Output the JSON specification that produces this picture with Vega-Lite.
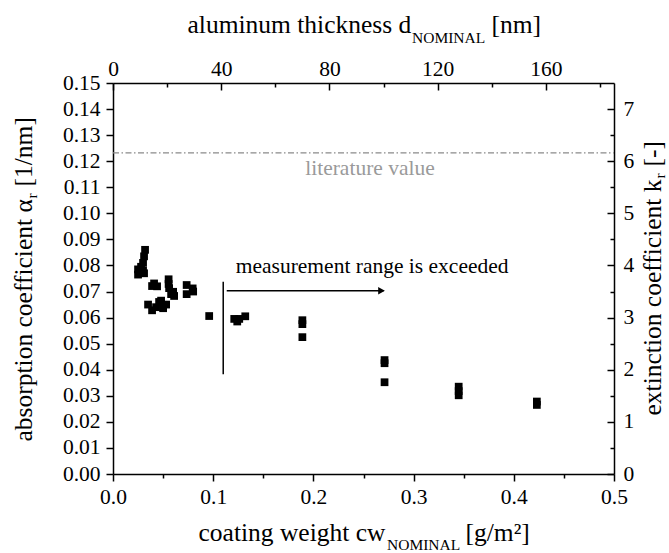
{
  "$schema": "https://vega.github.io/schema/vega-lite/v6.json",
  "width": 501,
  "height": 391,
  "autosize": {"type": "none"},
  "padding": {"left": 113, "top": 83, "right": 55, "bottom": 79},
  "background": "white",
  "config": {
    "view": {"stroke": null},
    "font": "Liberation Serif",
    "axis": {
      "labelFont": "Liberation Serif",
      "titleFont": "Liberation Serif",
      "labelColor": "black",
      "titleColor": "black",
      "domainColor": "black",
      "tickColor": "black",
      "domainWidth": 1.5,
      "tickWidth": 1.5,
      "labelFontSize": 21.5,
      "titleFontSize": 25.5,
      "titleFontWeight": "normal",
      "titleBaseline": "alphabetic",
      "labelOverlap": false,
      "labelFlush": false,
      "labelBound": false,
      "grid": false
    }
  },
  "datasets": {
    "points": [
      {"cw": 0.025, "alpha": 0.0765}, {"cw": 0.025, "alpha": 0.0785}, {"cw": 0.028, "alpha": 0.0775},
      {"cw": 0.028, "alpha": 0.0795}, {"cw": 0.030, "alpha": 0.078}, {"cw": 0.030, "alpha": 0.081},
      {"cw": 0.031, "alpha": 0.0835}, {"cw": 0.032, "alpha": 0.086}, {"cw": 0.031, "alpha": 0.077},
      {"cw": 0.035, "alpha": 0.065}, {"cw": 0.039, "alpha": 0.0628}, {"cw": 0.043, "alpha": 0.064},
      {"cw": 0.046, "alpha": 0.066}, {"cw": 0.048, "alpha": 0.0665}, {"cw": 0.050, "alpha": 0.0636},
      {"cw": 0.053, "alpha": 0.065},
      {"cw": 0.039, "alpha": 0.0721}, {"cw": 0.041, "alpha": 0.0731}, {"cw": 0.044, "alpha": 0.072},
      {"cw": 0.0555, "alpha": 0.0747}, {"cw": 0.0555, "alpha": 0.0729}, {"cw": 0.056, "alpha": 0.0713},
      {"cw": 0.060, "alpha": 0.0699}, {"cw": 0.061, "alpha": 0.0683}, {"cw": 0.058, "alpha": 0.069},
      {"cw": 0.0735, "alpha": 0.0725}, {"cw": 0.0735, "alpha": 0.069}, {"cw": 0.0795, "alpha": 0.0712},
      {"cw": 0.080, "alpha": 0.070},
      {"cw": 0.096, "alpha": 0.0606},
      {"cw": 0.121, "alpha": 0.0595}, {"cw": 0.124, "alpha": 0.0585}, {"cw": 0.126, "alpha": 0.0595},
      {"cw": 0.132, "alpha": 0.0605},
      {"cw": 0.189, "alpha": 0.059}, {"cw": 0.189, "alpha": 0.0575}, {"cw": 0.189, "alpha": 0.0525},
      {"cw": 0.271, "alpha": 0.0437}, {"cw": 0.271, "alpha": 0.0425}, {"cw": 0.271, "alpha": 0.0352},
      {"cw": 0.345, "alpha": 0.0335}, {"cw": 0.345, "alpha": 0.0318}, {"cw": 0.345, "alpha": 0.0302},
      {"cw": 0.423, "alpha": 0.0278}, {"cw": 0.423, "alpha": 0.0265}
    ],
    "vline": [{"cw": 0.110, "a0": 0.0383, "a1": 0.0738}],
    "arrow": [{"cw0": 0.1135, "cw1": 0.27, "alpha": 0.0703}],
    "arrowhead": [{"cw": 0.268, "alpha": 0.0703}],
    "note": [{"cw": 0.1225, "alpha": 0.0772, "label": "measurement range is exceeded"}],
    "litnote": [{"cw": 0.2565, "alpha": 0.1147, "label": "literature value"}],
    "litline": [{"d0": 0, "d1": 185.185, "k": 6.16}],
    "dummy": [{"cw": 0, "k": 0, "d": 0, "alpha": 0}]
  },
  "layer": [
    {
      "layer": [
        {
          "data": {"name": "points"},
          "mark": {"type": "point", "shape": "square", "filled": true, "color": "black", "size": 60, "opacity": 1},
          "encoding": {
            "x": {
              "field": "cw", "type": "quantitative",
              "scale": {"domain": [0, 0.5], "nice": false, "zero": false},
              "axis": {
                "orient": "bottom",
                "values": [0, 0.1, 0.2, 0.3, 0.4, 0.5],
                "format": ".1f",
                "tickSize": 7,
                "labelPadding": 5,
                "title": "coating weight cw",
                "titleAlign": "left",
                "titleX": 85,
                "titleY": 66
              }
            },
            "y": {
              "field": "alpha", "type": "quantitative",
              "scale": {"domain": [0, 0.15], "nice": false, "zero": false},
              "axis": {
                "orient": "left",
                "values": [0, 0.02, 0.04, 0.06, 0.08, 0.1, 0.12, 0.14],
                "format": ".2f",
                "tickSize": 7,
                "labelPadding": 6,
                "title": "absorption coefficient α",
                "titleAngle": -90,
                "titleAlign": "left",
                "titleX": -82,
                "titleY": 358
              }
            }
          }
        },
        {
          "data": {"name": "vline"},
          "mark": {"type": "rule", "color": "black", "strokeWidth": 1.5},
          "encoding": {
            "x": {"field": "cw", "type": "quantitative"},
            "y": {"field": "a0", "type": "quantitative"},
            "y2": {"field": "a1"}
          }
        },
        {
          "data": {"name": "arrow"},
          "mark": {"type": "rule", "color": "black", "strokeWidth": 1.5},
          "encoding": {
            "x": {"field": "cw0", "type": "quantitative"},
            "x2": {"field": "cw1"},
            "y": {"field": "alpha", "type": "quantitative"}
          }
        },
        {
          "data": {"name": "arrowhead"},
          "mark": {"type": "point", "shape": "triangle-right", "filled": true, "color": "black", "size": 60, "opacity": 1},
          "encoding": {
            "x": {"field": "cw", "type": "quantitative"},
            "y": {"field": "alpha", "type": "quantitative"}
          }
        },
        {
          "data": {"name": "note"},
          "mark": {"type": "text", "align": "left", "baseline": "alphabetic", "fontSize": 21.5, "font": "Liberation Serif", "color": "black"},
          "encoding": {
            "x": {"field": "cw", "type": "quantitative"},
            "y": {"field": "alpha", "type": "quantitative"},
            "text": {"field": "label"}
          }
        },
        {
          "data": {"name": "litnote"},
          "mark": {"type": "text", "align": "center", "baseline": "alphabetic", "fontSize": 21.5, "font": "Liberation Serif", "color": "#9a9a9a"},
          "encoding": {
            "x": {"field": "cw", "type": "quantitative"},
            "y": {"field": "alpha", "type": "quantitative"},
            "text": {"field": "label"}
          }
        }
      ]
    },
    {
      "data": {"name": "litline"},
      "mark": {"type": "rule", "color": "#8a8a8a", "strokeWidth": 1.2, "strokeDash": [6, 2.5, 1.5, 2.5]},
      "encoding": {
        "x": {
          "field": "d0", "type": "quantitative",
          "scale": {"domain": [0, 185.185], "nice": false, "zero": false},
          "axis": {
            "orient": "top",
            "values": [0, 40, 80, 120, 160],
            "tickSize": -7,
            "labelPadding": 10,
            "title": "aluminum thickness d",
            "titleAlign": "left",
            "titleX": 74,
            "titleY": -51
          }
        },
        "x2": {"field": "d1"},
        "y": {
          "field": "k", "type": "quantitative",
          "scale": {"domain": [0, 7.5], "nice": false, "zero": false},
          "axis": {
            "orient": "right",
            "values": [0, 1, 2, 3, 4, 5, 6, 7],
            "tickSize": -7,
            "labelPadding": 16,
            "title": "extinction coefficient k",
            "titleAngle": -90,
            "titleAlign": "left",
            "titleX": 46,
            "titleY": 332
          }
        }
      }
    },
    {
      "data": {"name": "dummy"},
      "mark": {"type": "point", "opacity": 0},
      "encoding": {
        "x": {
          "field": "cw", "type": "quantitative",
          "scale": {"domain": [0, 0.5], "nice": false, "zero": false},
          "axis": {
            "orient": "bottom",
            "values": [0.05, 0.15, 0.25, 0.35, 0.45],
            "tickSize": 4,
            "labels": false,
            "domain": false,
            "title": "NOMINAL",
            "titleFontSize": 15.5,
            "titleAlign": "left",
            "titleX": 273.5,
            "titleY": 75
          }
        },
        "y": {
          "field": "k", "type": "quantitative",
          "scale": {"domain": [0, 7.5], "nice": false, "zero": false},
          "axis": {
            "orient": "right",
            "values": [0.5, 1.5, 2.5, 3.5, 4.5, 5.5, 6.5],
            "tickSize": -4,
            "labels": false,
            "domain": false,
            "title": "r",
            "titleFontSize": 15.5,
            "titleAngle": -90,
            "titleAlign": "left",
            "titleX": 50,
            "titleY": 95
          }
        }
      }
    },
    {
      "data": {"name": "dummy"},
      "mark": {"type": "point", "opacity": 0},
      "encoding": {
        "x": {
          "field": "d", "type": "quantitative",
          "scale": {"domain": [0, 185.185], "nice": false, "zero": false},
          "axis": {
            "orient": "top",
            "values": [20, 60, 100, 140, 180],
            "tickSize": -4,
            "labels": false,
            "domain": false,
            "title": "NOMINAL",
            "titleFontSize": 15.5,
            "titleAlign": "left",
            "titleX": 298.5,
            "titleY": -41
          }
        },
        "y": {
          "field": "alpha", "type": "quantitative",
          "scale": {"domain": [0, 0.15], "nice": false, "zero": false},
          "axis": {
            "orient": "left",
            "values": [0.01, 0.03, 0.05, 0.07, 0.09, 0.11, 0.13, 0.15],
            "format": ".2f",
            "tickSize": 7,
            "labelPadding": 6,
            "domain": false,
            "title": "r",
            "titleFontSize": 15.5,
            "titleAngle": -90,
            "titleAlign": "left",
            "titleX": -77,
            "titleY": 115
          }
        }
      }
    },
    {
      "data": {"name": "dummy"},
      "mark": {"type": "point", "opacity": 0},
      "encoding": {
        "x": {
          "field": "cw", "type": "quantitative",
          "scale": {"domain": [0, 0.5], "nice": false, "zero": false},
          "axis": {
            "orient": "bottom",
            "ticks": false,
            "labels": false,
            "domain": false,
            "title": "[g/m²]",
            "titleAlign": "left",
            "titleX": 352,
            "titleY": 66
          }
        },
        "y": {
          "field": "alpha", "type": "quantitative",
          "scale": {"domain": [0, 0.15], "nice": false, "zero": false},
          "axis": {
            "orient": "left",
            "ticks": false,
            "labels": false,
            "domain": false,
            "title": "[1/nm]",
            "titleAngle": -90,
            "titleAlign": "left",
            "titleX": -82,
            "titleY": 103
          }
        }
      }
    },
    {
      "data": {"name": "dummy"},
      "mark": {"type": "point", "opacity": 0},
      "encoding": {
        "x": {
          "field": "d", "type": "quantitative",
          "scale": {"domain": [0, 185.185], "nice": false, "zero": false},
          "axis": {
            "orient": "top",
            "ticks": false,
            "labels": false,
            "domain": false,
            "title": "[nm]",
            "titleAlign": "left",
            "titleX": 378,
            "titleY": -51
          }
        },
        "y": {
          "field": "k", "type": "quantitative",
          "scale": {"domain": [0, 7.5], "nice": false, "zero": false},
          "axis": {
            "orient": "right",
            "ticks": false,
            "labels": false,
            "domain": false,
            "title": "[-]",
            "titleAngle": -90,
            "titleAlign": "left",
            "titleX": 46,
            "titleY": 83
          }
        }
      }
    }
  ],
  "resolve": {
    "scale": {"x": "independent", "y": "independent"},
    "axis": {"x": "independent", "y": "independent"}
  }
}
